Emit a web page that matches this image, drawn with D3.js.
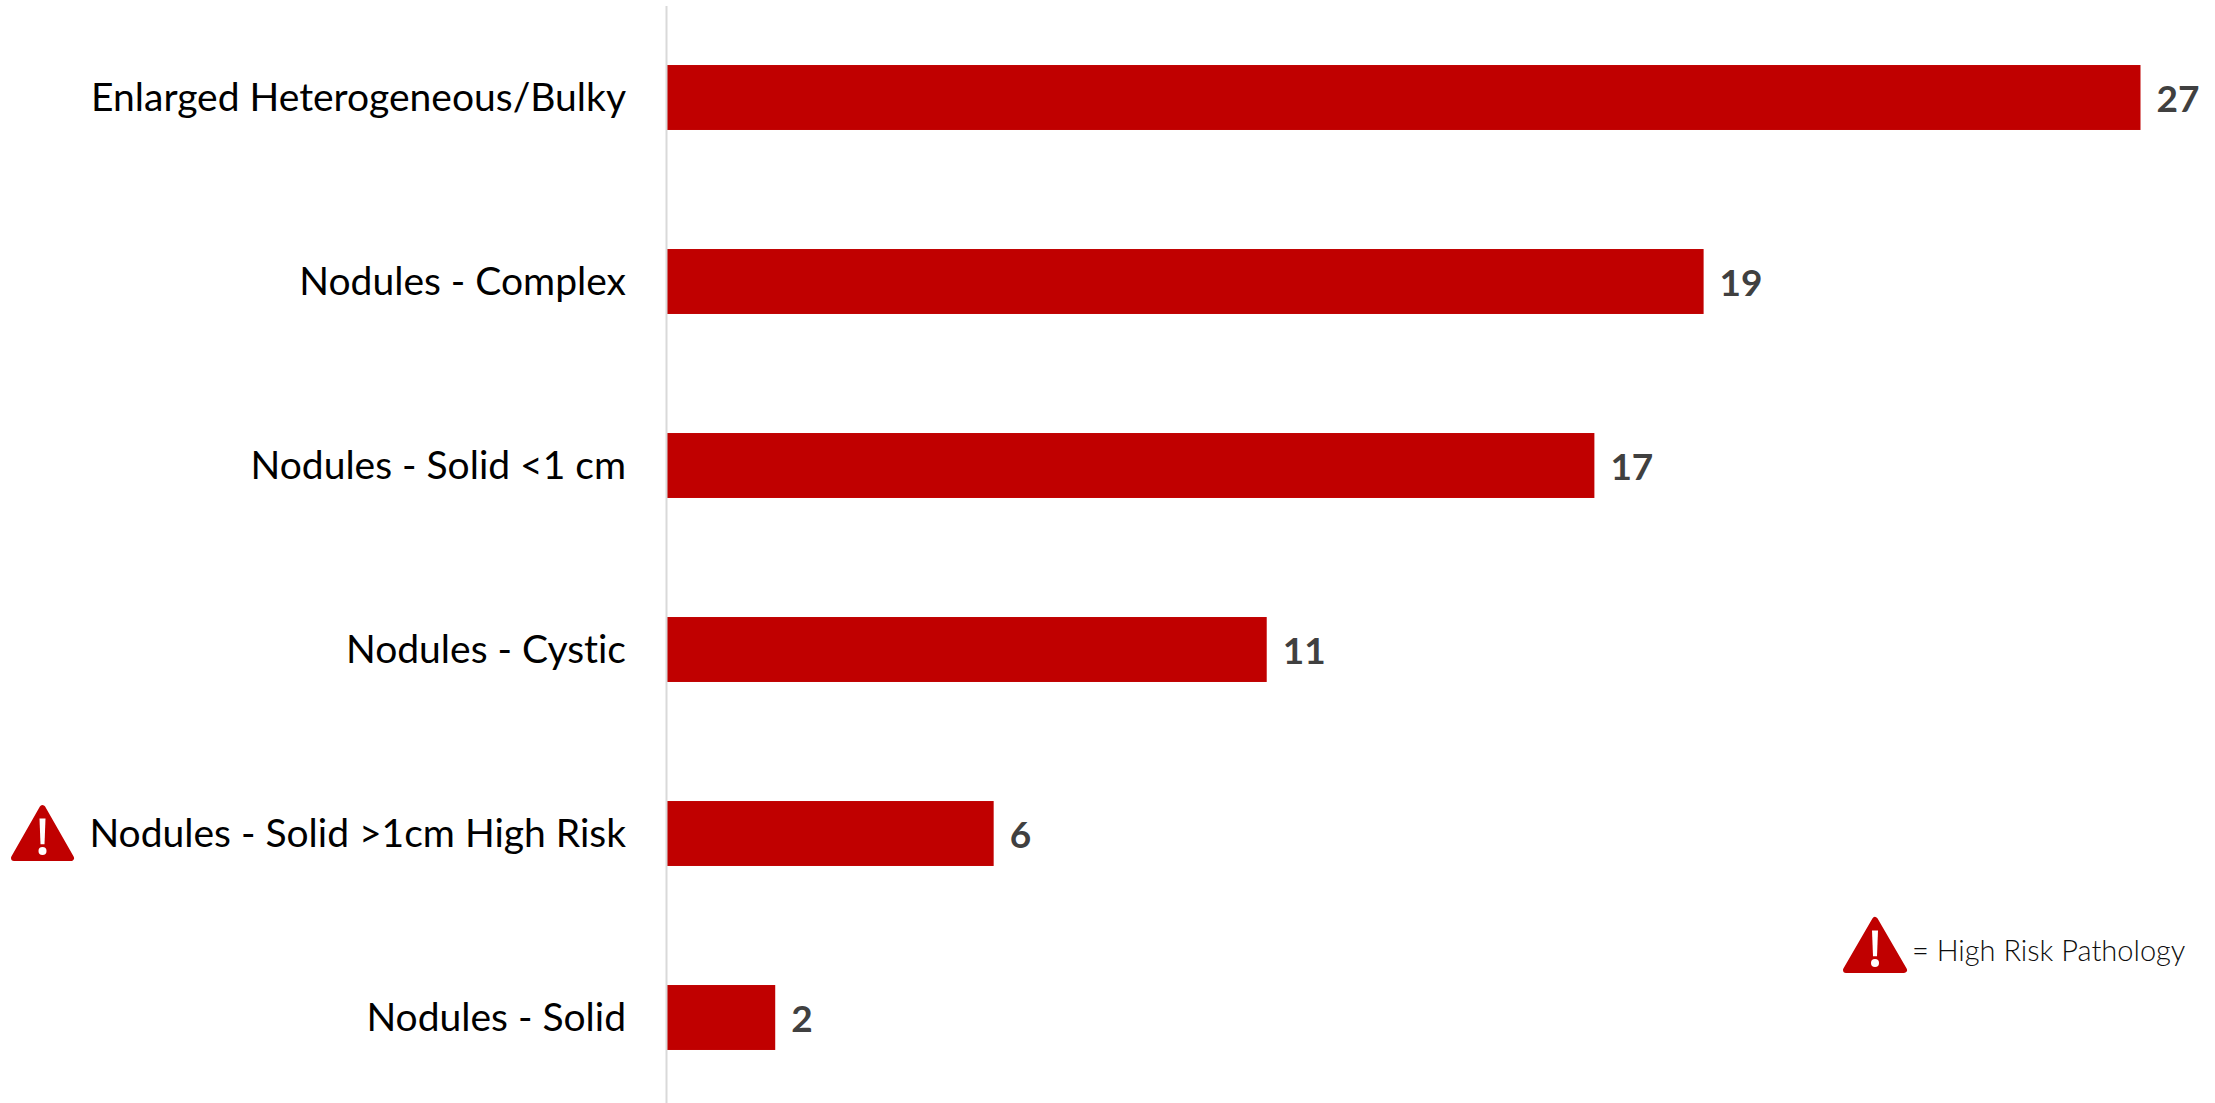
<!DOCTYPE html>
<html>
<head>
<meta charset="utf-8">
<script src="https://cdn.jsdelivr.net/npm/d3@7"></script>
<style>
  html, body { margin: 0; padding: 0; background: #fff; overflow: hidden; }
  text { font-family: Lato, "Open Sans", sans-serif; font-variant-ligatures: none; }
  .axis text { font-size: 39px; fill: #000; }
  .axis path { stroke: #d9d9d9; stroke-width: 2; }
  .value { font-size: 37px; font-weight: 700; fill: #404040; }
  .key { font-size: 29px; font-weight: 300; fill: #0d0d0d; }
</style>
</head>
<body>
<div id="chart"></div>
<script>
const categories = [
  "Enlarged Heterogeneous/Bulky",
  "Nodules - Complex",
  "Nodules - Solid <1 cm",
  "Nodules - Cystic",
  "Nodules - Solid >1cm High Risk",
  "Nodules - Solid"
]
const values = [27, 19, 17, 11, 6, 2]
const highRisk = ["Nodules - Solid >1cm High Risk"]
const keyLabel = "= High Risk Pathology"

const width = 2215
const height = 1103
const red = "#c00000"

const svg = d3.select("#chart").append("svg")
    .attr("width", width)
    .attr("height", height)

const x = d3.scaleLinear().domain([0, 27]).range([666, 2140.5])
const y = d3.scaleBand().domain(categories).range([5.5, 1109.5]).paddingInner(0.647).paddingOuter(0.3235)

svg.selectAll("rect.bar")
    .data(categories)
    .join("rect")
    .attr("class", "bar")
    .attr("x", x(0))
    .attr("y", d => y(d))
    .attr("width", (d, i) => x(values[i]) - x(0))
    .attr("height", y.bandwidth())
    .attr("fill", red)

svg.append("g")
    .attr("class", "axis")
    .attr("transform", `translate(${x(0)},0)`)
    .call(d3.axisLeft(y).tickSize(0).tickPadding(40))
    .selectAll("text")
    .attr("dy", "0.35em")

svg.selectAll("text.value")
    .data(categories)
    .join("text")
    .attr("class", "value")
    .attr("x", (d, i) => x(values[i]) + 16)
    .attr("y", d => y(d) + y.bandwidth() / 2)
    .attr("dy", "0.4em")
    .text((d, i) => values[i])

// warning triangle, w x h box with top left corner at px,py
function warning(px, py, w, h) {
  const g = svg.append("g").attr("transform", `translate(${px},${py})`)
  g.append("path")
    .attr("d", `M${w / 2},3 L${w - 3},${h - 3} L3,${h - 3} Z`)
    .attr("fill", red)
    .attr("stroke", red)
    .attr("stroke-width", 6)
    .attr("stroke-linejoin", "round")
  g.append("path")
    .attr("d", `M${w / 2 - 3},${h * 0.24} L${w / 2 + 3},${h * 0.24} L${w / 2 + 2},${h * 0.7} L${w / 2 - 2},${h * 0.7} Z`)
    .attr("fill", "#fff")
  g.append("circle")
    .attr("cx", w / 2)
    .attr("cy", h * 0.82)
    .attr("r", 4)
    .attr("fill", "#fff")
}

highRisk.forEach(d => warning(11, y(d) + 4, 63, 56))
warning(1843, 917, 64, 56)

svg.append("text")
    .attr("class", "key")
    .attr("x", 1912)
    .attr("y", 961)
    .text(keyLabel)
</script>
</body>
</html>
